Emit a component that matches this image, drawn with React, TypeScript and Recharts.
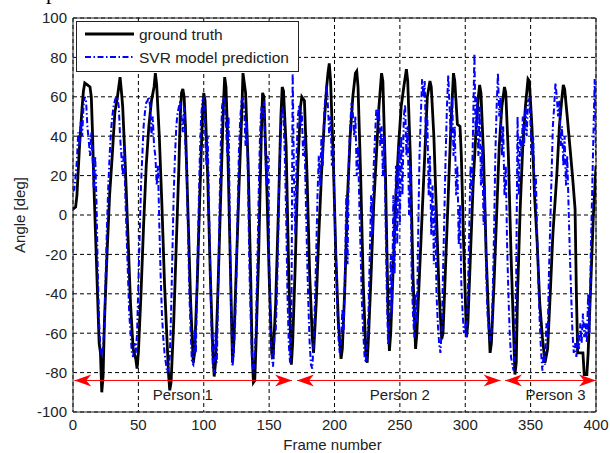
import React from 'react';
import {
  LineChart,
  Line,
  XAxis,
  YAxis,
  CartesianGrid,
  ReferenceLine,
  ReferenceDot,
  ReferenceArea,
  Legend,
} from 'recharts';

// ---------- data ----------
const xTicks = [0, 50, 100, 150, 200, 250, 300, 350, 400];
const yTicks = [-100, -80, -60, -40, -20, 0, 20, 40, 60, 80, 100];

const seriesNames = ['ground truth', 'SVR model prediction'];
const seriesColors = ['#000000', '#0000ff'];

// ground truth: [frame, angle] keypoints
const groundTruthPoints: [number, number][] = [
  [0, 3], [2, 4], [3, 10], [5, 35], [7, 55], [8, 63], [9, 67], [11, 66], [13, 65], [14, 60],
  [15, 40], [16, 15], [18, -25], [20, -65], [21, -70], [22, -90], [23, -82], [24, -55], [26, -20], [28, 10],
  [30, 30], [32, 52], [34, 60], [35, 65], [36, 70], [37, 63], [38, 55], [40, 25], [42, -10], [44, -45],
  [46, -68], [48, -73], [49, -78], [50, -70], [52, -40], [54, -5], [56, 25], [58, 45], [60, 58], [62, 65],
  [63, 72], [64, 66], [66, 40], [68, 5], [70, -35], [72, -65], [73, -80], [74, -89], [75, -85], [77, -55],
  [79, -15], [81, 25], [82, 50], [83, 62], [84, 64], [85, 60], [86, 45], [88, 0], [90, -45], [92, -75],
  [93, -70], [95, -35], [97, 10], [99, 50], [100, 62], [101, 58], [103, 20], [105, -30], [107, -70], [108, -82],
  [109, -75], [111, -35], [113, 10], [115, 55], [116, 70], [117, 65], [118, 45], [120, -15], [122, -75], [123, -65],
  [125, -25], [127, 15], [129, 50], [130, 72], [132, 62], [134, 25], [136, -35], [137, -70], [138, -85], [139, -84],
  [140, -65], [142, -20], [144, 40], [145, 62], [146, 60], [148, 20], [150, -30], [152, -70], [153, -73], [155, -45],
  [157, 0], [159, 50], [160, 65], [161, 63], [163, 35], [165, -30], [167, -76], [168, -65], [170, -25], [172, 25],
  [174, 55], [175, 60], [177, 58], [179, 20], [181, -30], [183, -62], [184, -70], [186, -45], [188, -10], [190, 20],
  [192, 45], [194, 65], [195, 72], [196, 77], [197, 68], [199, 30], [201, -20], [203, -55], [205, -73], [206, -68],
  [208, -35], [210, 10], [212, 40], [214, 60], [216, 72], [217, 73], [218, 65], [220, 20], [222, -35], [224, -70],
  [225, -75], [226, -62], [228, -30], [230, 5], [232, 30], [234, 55], [236, 72], [237, 68], [239, 20], [241, -50],
  [242, -69], [243, -60], [245, -25], [247, 10], [249, 35], [251, 55], [253, 65], [255, 74], [256, 68], [258, 30],
  [260, -30], [262, -68], [263, -60], [265, -30], [267, 0], [269, 30], [271, 60], [273, 68], [274, 65], [276, 40],
  [278, 0], [280, -40], [282, -63], [283, -60], [285, -25], [287, 10], [289, 45], [291, 72], [292, 68], [294, 46],
  [296, 45], [297, 30], [299, -20], [301, -62], [302, -55], [304, -20], [306, 15], [308, 40], [310, 60], [311, 66],
  [312, 62], [314, 30], [316, -20], [318, -55], [319, -70], [320, -65], [322, -35], [324, 0], [326, 35], [328, 55],
  [330, 65], [331, 62], [333, 30], [335, -20], [337, -60], [338, -81], [339, -75], [340, -40], [342, 3], [344, 35],
  [346, 55], [348, 69], [349, 68], [351, 45], [353, 10], [355, -14], [357, -45], [359, -62], [361, -75], [363, -68],
  [365, -40], [367, -10], [369, 10], [370, 20], [372, 45], [374, 60], [375, 66], [376, 64], [378, 50], [380, 35],
  [382, 20], [384, 3], [385, -40], [386, -70], [388, -70], [390, -70], [391, -81], [393, -81], [394, -70], [396, -35],
  [398, 0], [400, 25],
];

// SVR prediction: one angle per frame (index = frame number 0..400)
const predictionAngles = [
  12, 13, 20, 28, 42, 35, 48, 40, 55, 60,
  58, 45, 38, 30, 42, 28, 12, 30, 5, -30,
  -55, -68, -72, -66, -58, -30, -5, 15, 30, 42,
  50, 55, 58, 60, 59, 55, 40, 30, 20, 35,
  10, -10, -30, -50, -60, -70, -72, -65, -70, -60,
  -35, -10, 15, 30, 45, 52, 57, 58, 60, 55,
  40, 50, 35, 30, 15, 25, -5, -30, -50, -62,
  -70, -75, -80, -78, -72, -50, -20, 10, 30, 45,
  52, 55, 58, 50, 42, 55, 35, 20, -10, -40,
  -60, -75, -76, -58, -70, -30, 0, 30, 50, 58,
  60, 45, 25, 40, 5, -30, -60, -78, -80, -60,
  -75, -40, 0, 35, 55, 60, 58, 45, 30, 50,
  -10, -50, -77, -70, -55, -30, 5, 35, 50, 58,
  60, 52, 35, 48, 10, -30, -55, -75, -80, -70,
  -55, -25, 10, 40, 55, 50, 58, 35, 15, 30,
  -20, -55, -72, -77, -62, -60, -40, -10, 25, 45,
  55, 50, 30, 0, -40, -65, -75, -60, 72, 20,
  -10, 30, 50, 56, 45, 52, 30, 40, 10, -20,
  -45, -65, -76, -78, -65, -45, -20, 10, 30, 15,
  40, 25, 50, 60, 66, 55, 40, 50, 25, 35,
  5, -20, -45, -62, -70, -65, -48, -60, -30, 10,
  -25, 30, 45, 57, 52, 40, 50, 20, 35, 5,
  -20, -45, -60, -72, -75, -65, -50, -20, 10, -10,
  25, 40, 54, 48, 54, 35, 45, 20, 40, 0,
  -40, -66, -55, -20, -50, 10, -30, 25, -15, 35,
  -5, 40, 10, 50, 56, 30, 45, 0, 25, -30,
  -50, -62, -40, -55, -10, 30, 50, 69, 60, 68,
  35, 50, 10, 30, -10, 15, -25, 5, -40, -55,
  -65, -70, -58, -30, 0, 30, 55, 71, 55, 40,
  60, 30, 45, 10, 25, -15, 5, -35, -50, -60,
  -55, -62, -40, -10, 25, 10, 45, 82, 40, 60,
  30, 55, 15, 35, -5, 15, -30, -50, -58, -64,
  -60, -40, -10, 30, 55, 72, 50, 60, 30, 45,
  10, 25, -15, -40, -60, -72, -76, -79, -60, -30,
  50, 10, 40, 30, 50, 35, 55, 40, 58, 59,
  45, 30, 40, 10, 20, -10, -35, -55, -70, -79,
  -70, -76, -55, -62, -30, -5, 20, 45, 55, 67,
  60, 50, 58, 35, 45, 25, 40, 15, 30, 5,
  -20, -40, -60, -70, -65, -72, -60, -68, -55, -65,
  -50, -62, -55, -65, -40, -60, -20, 10, 40, 69,
  30,
];

// person annotations (frame ranges, in data units)
const personNames = ['Person 1', 'Person 2', 'Person 3'];
const personStartFrames = [1, 171.3, 330.4];
const personEndFrames = [167.5, 327, 400];
const personLabelFrames = [84, 250, 369];
const personArrowAngle = -84;
const personLabelAngle = -91;

// ---------- derived tables ----------
const groundTruthData = groundTruthPoints.map(([frame, angle]) => ({ frame, angle }));
const predictionData = predictionAngles.map((angle, frame) => ({ frame, angle }));

const FONT = '"Liberation Sans", Arial, Helvetica, sans-serif';
const RED = '#ff0000';

const arrowHead = (dir: number) => (p: any) => {
  const { cx, cy } = p;
  const L = 17;
  const W = 6;
  const N = 12;
  const pts = [
    [cx, cy],
    [cx - dir * L, cy - W],
    [cx - dir * N, cy],
    [cx - dir * L, cy + W],
  ];
  return <polygon points={pts.map((q) => q.join(',')).join(' ')} fill={RED} stroke="none" />;
};

const labelShape = (text: string) => (p: any) => (
  <text
    x={p.cx}
    y={p.cy}
    textAnchor="middle"
    dominantBaseline="central"
    fontFamily={FONT}
    fontSize={15}
    fill="#222"
  >
    {text}
  </text>
);

const YLabel = (props: any) => {
  const vb = props.viewBox || { x: 0, y: 18, width: 73, height: 394 };
  const cx = vb.x + 19;
  const cy = vb.y + vb.height / 2;
  return (
    <text
      x={cx}
      y={cy}
      transform={`rotate(-90 ${cx} ${cy})`}
      textAnchor="middle"
      dominantBaseline="central"
      fontFamily={FONT}
      fontSize={15}
      fill="#222"
    >
      Angle [deg]
    </text>
  );
};

const XLabel = (props: any) => {
  const vb = props.viewBox || { x: 73, y: 412, width: 523, height: 41 };
  const cx = vb.x + vb.width / 2 - 2;
  const cy = vb.y + 32;
  return (
    <text
      x={cx}
      y={cy}
      textAnchor="middle"
      dominantBaseline="central"
      fontFamily={FONT}
      fontSize={15}
      fill="#222"
    >
      Frame number
    </text>
  );
};

const LegendBox = () => (
  <svg width={223} height={51} style={{ display: 'block' }}>
    <rect x={0.5} y={0.5} width={222} height={50} fill="#fff" stroke="#222" strokeWidth={1} />
    {seriesNames.map((name, i) => {
      const y = 13 + i * 23;
      return (
        <g key={name}>
          <line
            x1={9}
            x2={58}
            y1={y}
            y2={y}
            stroke={seriesColors[i]}
            strokeWidth={i === 0 ? 2.8 : 2}
            strokeDasharray={i === 0 ? undefined : '6 2.5 1.5 2.5'}
          />
          <text
            x={63}
            y={y}
            dominantBaseline="central"
            fontFamily={FONT}
            fontSize={15.5}
            fill="#222"
          >
            {name}
          </text>
        </g>
      );
    })}
  </svg>
);

export default function App() {
  return (
    <div style={{ position: 'absolute', left: 0, top: 0, width: 610, height: 453, background: '#fff' }}>
      <svg
        width={20}
        height={8}
        style={{ position: 'absolute', left: 40, top: 0, overflow: 'hidden' }}
      >
        <text x={6} y={-1} fontFamily='"Liberation Serif", "Times New Roman", serif' fontSize={22} fill="#000">
          p
        </text>
      </svg>
      <LineChart
        width={610}
        height={453}
        margin={{ top: 18, right: 14, bottom: 0, left: 0 }}
      >
        <CartesianGrid stroke="#000" strokeDasharray="4 3" strokeWidth={1} />
        <XAxis
          type="number"
          dataKey="frame"
          domain={[0, 400]}
          ticks={xTicks}
          allowDataOverflow
          height={41}
          tickLine={false}
          tickSize={0}
          tickMargin={7}
          axisLine={false}
          tick={{ fontSize: 15, fontFamily: FONT, fill: '#222' }}
          label={XLabel}
        />
        <YAxis
          type="number"
          dataKey="angle"
          domain={[-100, 100]}
          ticks={yTicks}
          allowDataOverflow
          width={73}
          tickLine={false}
          tickSize={0}
          tickMargin={6}
          axisLine={false}
          interval={0}
          tick={{ fontSize: 15, fontFamily: FONT, fill: '#222' }}
          label={YLabel}
        />
        <Line
          data={groundTruthData}
          dataKey="angle"
          name={seriesNames[0]}
          type="linear"
          stroke={seriesColors[0]}
          strokeWidth={2.8}
          dot={false}
          activeDot={false}
          isAnimationActive={false}
        />
        <Line
          data={predictionData}
          dataKey="angle"
          name={seriesNames[1]}
          type="linear"
          stroke={seriesColors[1]}
          strokeWidth={2}
          strokeDasharray="6 2.5 1.5 2.5"
          dot={false}
          activeDot={false}
          isAnimationActive={false}
        />
        {personNames.map((name, i) => (
          <ReferenceLine
            key={`seg-${name}`}
            segment={[
              { x: personStartFrames[i], y: personArrowAngle },
              { x: personEndFrames[i], y: personArrowAngle },
            ]}
            stroke={RED}
            strokeWidth={1}
            ifOverflow="visible"
          />
        ))}
        {personNames.map((name, i) => (
          <ReferenceDot
            key={`al-${name}`}
            x={personStartFrames[i]}
            y={personArrowAngle}
            r={0}
            shape={arrowHead(-1)}
            ifOverflow="visible"
          />
        ))}
        {personNames.map((name, i) => (
          <ReferenceDot
            key={`ar-${name}`}
            x={personEndFrames[i]}
            y={personArrowAngle}
            r={0}
            shape={arrowHead(1)}
            ifOverflow="visible"
          />
        ))}
        {personNames.map((name, i) => (
          <ReferenceDot
            key={`lbl-${name}`}
            x={personLabelFrames[i]}
            y={personLabelAngle}
            r={0}
            shape={labelShape(name)}
            ifOverflow="visible"
          />
        ))}
        <ReferenceArea
          x1={0}
          x2={400}
          y1={-100}
          y2={100}
          fill="none"
          fillOpacity={0}
          stroke="#222"
          strokeWidth={1}
          ifOverflow="visible"
        />
        <Legend
          layout="vertical"
          align="center"
          verticalAlign="middle"
          width={223}
          height={51}
          wrapperStyle={{ left: 76, top: 21, width: 223, height: 51 }}
          content={LegendBox}
        />
      </LineChart>
    </div>
  );
}
